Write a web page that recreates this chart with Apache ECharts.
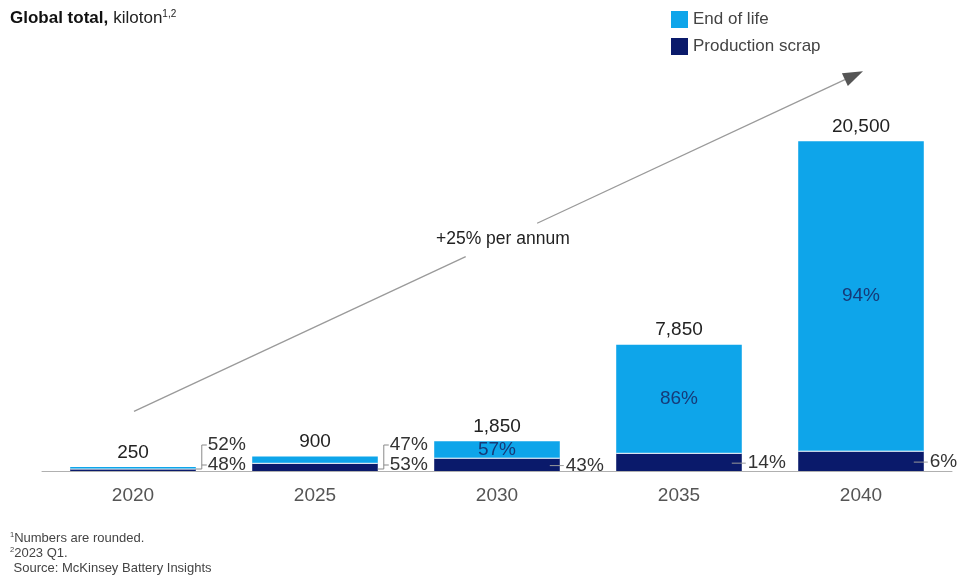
<!DOCTYPE html>
<html>
<head>
<meta charset="utf-8">
<script src="https://cdn.jsdelivr.net/npm/echarts@6/dist/echarts.min.js"></script>
<style>html,body{margin:0;padding:0;background:#fff;}#c{width:964px;height:576px;}</style>
</head>
<body>
<div id="c"></div>
<script>
const categories = ['2020', '2025', '2030', '2035', '2040'];
const endOfLife = [130, 423, 1055, 6751, 19270];
const productionScrap = [120, 477, 795, 1099, 1230];
const totals = [250, 900, 1850, 7850, 20500];
const eolPct = ['52%', '47%', '57%', '86%', '94%'];
const psPct = ['48%', '53%', '43%', '14%', '6%'];

const FONT = '"Liberation Sans", Arial, sans-serif';
const EOL_COLOR = '#0ea5ea';
const PS_COLOR = '#0a1a6b';
const BAR_FRAC = 0.69;

const chart = echarts.init(document.getElementById('c'), null, {renderer: 'canvas'});

function fmt(n) { return n.toLocaleString('en-US'); }

const option = {
  animation: false,
  backgroundColor: '#fff',
  textStyle: {fontFamily: FONT},
  title: {
    left: 10, top: 9, padding: 0,
    text: '{b|Global total,} {n|kiloton}{s|1,2}',
    textStyle: {
      fontWeight: 'normal',
      rich: {
        b: {fontFamily: FONT, fontWeight: 'bold', fontSize: 17, color: '#111'},
        n: {fontFamily: FONT, fontWeight: 'normal', fontSize: 17, color: '#222'},
        s: {fontFamily: FONT, fontWeight: 'normal', fontSize: 10, color: '#222', verticalAlign: 'top', padding: [0, 0, 9, 0]}
      }
    }
  },
  legend: {
    orient: 'vertical', left: 671, top: 11, padding: 0,
    itemWidth: 17, itemHeight: 17, itemGap: 10,
    icon: 'rect',
    textStyle: {fontFamily: FONT, fontSize: 17, color: '#444'},
    data: ['End of life', 'Production scrap']
  },
  grid: {left: 42, right: 12, top: 117, bottom: 105},
  xAxis: {
    type: 'category',
    data: categories,
    axisLine: {lineStyle: {color: '#b0b0b0', width: 1}},
    axisTick: {show: false},
    axisLabel: {fontFamily: FONT, fontSize: 19, color: '#555', margin: 15}
  },
  yAxis: {
    type: 'value', min: 0, max: 22000, show: false,
    splitLine: {show: false}
  },
  series: [
    {
      name: 'Production scrap', type: 'bar', stack: 'total',
      barWidth: (BAR_FRAC * 100) + '%',
      data: productionScrap,
      itemStyle: {color: PS_COLOR},
      z: 2
    },
    {
      name: 'End of life', type: 'bar', stack: 'total',
      data: endOfLife,
      itemStyle: {color: EOL_COLOR},
      label: {
        show: true, position: 'top', distance: 5,
        fontFamily: FONT, fontSize: 19, color: '#222',
        formatter: p => fmt(totals[p.dataIndex])
      },
      z: 2
    },
    {
      type: 'custom',
      silent: true,
      clip: false,
      z: 5,
      data: categories.map((c, i) => [i]),
      renderItem: function (params, api) {
        const i = api.value(0);
        const c = api.coord([i, 0]);
        const band = api.size([1, 0])[0];
        const half = band * BAR_FRAC / 2;
        const right = c[0] + half;
        const base = c[1];
        const psTop = api.coord([i, productionScrap[i]])[1];
        const top = api.coord([i, totals[i]])[1];
        const lineStyle = {stroke: '#8a8a8a', lineWidth: 1, fill: null};
        const outText = {fontFamily: FONT, fontSize: 19, fill: '#333', textAlign: 'left', textVerticalAlign: 'middle'};
        const children = [];
        children.push({type: 'line', shape: {x1: c[0] - half, y1: psTop, x2: right, y2: psTop}, style: {stroke: '#fff', lineWidth: 1}});
        if (i < 2) {
          const bx = right + 6;
          children.push({type: 'polyline', shape: {points: [[right, base - 2], [bx, base - 2], [bx, base - 26], [bx + 5, base - 26]]}, style: lineStyle});
          children.push({type: 'line', shape: {x1: bx, y1: base - 6, x2: bx + 5, y2: base - 6}, style: lineStyle});
          children.push({type: 'text', style: Object.assign({x: bx + 6, y: base - 26, text: eolPct[i]}, outText)});
          children.push({type: 'text', style: Object.assign({x: bx + 6, y: base - 6, text: psPct[i]}, outText)});
        } else {
          const my = (psTop + base) / 2 + 1;
          children.push({type: 'line', shape: {x1: right - 10, y1: my, x2: right + 4, y2: my}, style: {stroke: '#9a9a9a', lineWidth: 1}});
          children.push({type: 'text', style: Object.assign({x: right + 6, y: my, text: psPct[i]}, outText)});
          children.push({type: 'text', style: {x: c[0], y: (top + psTop) / 2, text: eolPct[i], fontFamily: FONT, fontSize: 19, fill: '#163a78', textAlign: 'center', textVerticalAlign: 'middle'}});
        }
        return {type: 'group', children: children};
      }
    }
  ]
};

chart.setOption(option);

// Growth arrow annotation anchored to the chart's coordinate system
const p0 = chart.convertToPixel({gridIndex: 0}, [0, 3700]);
const p1 = chart.convertToPixel({gridIndex: 0}, [4, 24850]);
const x0 = p0[0] + 1, y0 = p0[1], x1 = p1[0] + 2, y1 = p1[1];
const dx = x1 - x0, dy = y1 - y0;
const L = Math.sqrt(dx * dx + dy * dy);
const ux = dx / L, uy = dy / L;
const g1 = 0.455, g2 = 0.553, tm = 0.506;
const headLen = 20, headW = 7;
const hb = [x1 - ux * headLen, y1 - uy * headLen];
const nx = -uy, ny = ux;

chart.setOption({
  graphic: [
    {type: 'line', silent: true, shape: {x1: x0, y1: y0, x2: x0 + dx * g1, y2: y0 + dy * g1}, style: {stroke: '#9a9a9a', lineWidth: 1.3}},
    {type: 'line', silent: true, shape: {x1: x0 + dx * g2, y1: y0 + dy * g2, x2: hb[0], y2: hb[1]}, style: {stroke: '#9a9a9a', lineWidth: 1.3}},
    {type: 'polygon', silent: true, shape: {points: [[x1, y1], [hb[0] + nx * headW, hb[1] + ny * headW], [hb[0] - nx * headW, hb[1] - ny * headW]]}, style: {fill: '#555'}},
    {type: 'text', silent: true, x: x0 + dx * tm, y: y0 + dy * tm, style: {text: '+25% per annum', fontFamily: FONT, fontSize: 17.5, fill: '#222', textAlign: 'center', textVerticalAlign: 'middle'}},
    {type: 'text', silent: true, left: 10, top: 531, style: {
      text: '{s|1}{t|Numbers are rounded.}\n{s|2}{t|2023 Q1.}\n{t| Source: McKinsey Battery Insights}',
      rich: {
        t: {fontFamily: FONT, fontSize: 13, fill: '#444', lineHeight: 15},
        s: {fontFamily: FONT, fontSize: 7.5, fill: '#444', verticalAlign: 'top', lineHeight: 15}
      }
    }}
  ]
});
</script>
</body>
</html>
